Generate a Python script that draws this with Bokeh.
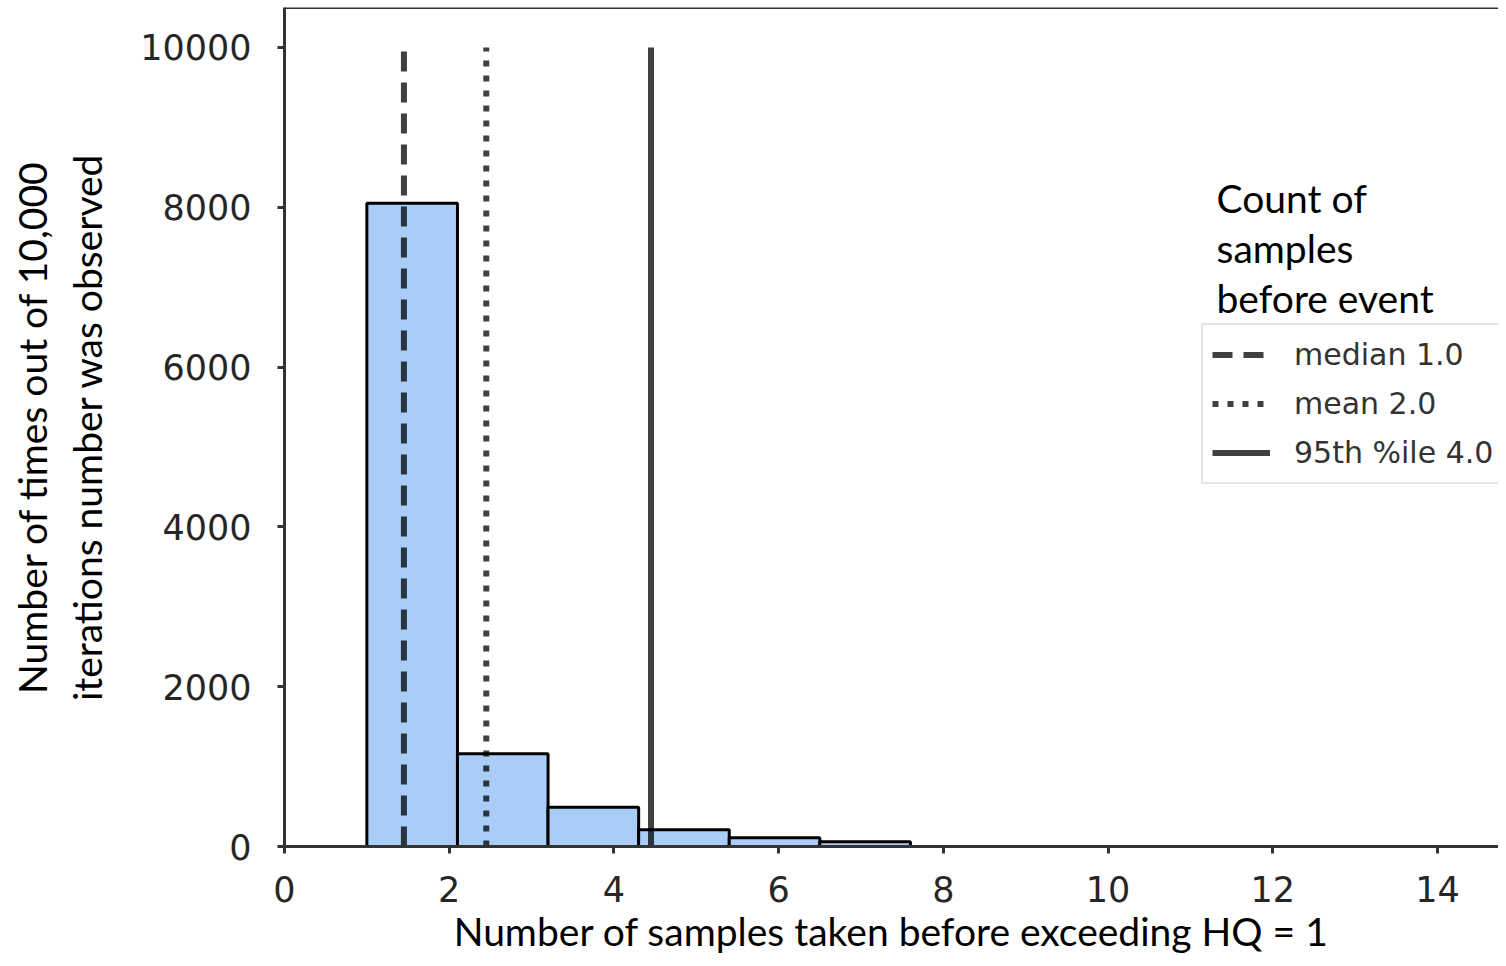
from bokeh.plotting import figure
from bokeh.models import Legend, LegendItem, Label, Span, FixedTicker
from bokeh.embed import file_html
from bokeh.resources import INLINE

# ---- data ----
bin_edges = [1.0, 2.1, 3.2, 4.3, 5.4, 6.5, 7.6]
counts = [8050, 1160, 490, 210, 110, 60]

stat_labels = ["median 1.0", "mean 2.0", "95th %ile 4.0"]
stat_x = [1.45, 2.45, 4.45]
stat_top = 10000
stat_dash = ["20 11", "6 9", "solid"]

x_ticks = [0, 2, 4, 6, 8, 10, 12, 14]
y_ticks = [0, 2000, 4000, 6000, 8000, 10000]

x_title = "Number of samples taken before exceeding HQ = 1"
y_title_lines = ["Number of times out of 10,000", "iterations number was observed"]
legend_title_lines = ["Count of", "samples", "before event"]

AX = "#333333"
TICK_FONT = "DejaVu Sans"
LBL_FONT = "Lato"

W, H = 1498, 958
FRAME_LEFT = 284
FRAME_TOP = 7
FRAME_BOTTOM = 846
Y_TOP = 10500
PX_PER_X = 82.36
X_END = (W - FRAME_LEFT) / PX_PER_X


def py(page_y):
    return (FRAME_BOTTOM - page_y) / (FRAME_BOTTOM - FRAME_TOP) * Y_TOP


def px(page_x):
    return (page_x - FRAME_LEFT) / PX_PER_X


p = figure(width=W, height=H, x_range=(0, X_END), y_range=(0, Y_TOP),
           output_backend="svg", toolbar_location=None,
           min_border_left=FRAME_LEFT, min_border_right=0, min_border_top=FRAME_TOP,
           min_border_bottom=H - FRAME_BOTTOM)
p.outline_line_color = None
p.grid.visible = False
p.background_fill_color = "white"
p.border_fill_color = "white"

p.quad(left=bin_edges[:-1], right=bin_edges[1:], bottom=0, top=counts,
       fill_color="#a9cdf6", line_color="black", line_width=3)

renderers = []
for xv, dash in zip(stat_x, stat_dash):
    r = p.line([xv, xv], [0, stat_top], line_color="black", line_alpha=0.75,
               line_width=6, line_dash=dash)
    renderers.append(r)

for ax in (p.xaxis[0], p.yaxis[0]):
    ax.axis_line_color = AX
    ax.axis_line_width = 3
    ax.major_tick_line_color = AX
    ax.major_tick_line_width = 3
    ax.major_tick_out = 7
    ax.major_tick_in = 0
    ax.minor_tick_line_color = None
    ax.major_label_text_font = TICK_FONT
    ax.major_label_text_font_size = "35px"
    ax.major_label_text_color = "#262626"
    ax.axis_label_text_font = LBL_FONT
    ax.axis_label_text_font_size = "39px"
    ax.axis_label_text_font_style = "normal"
    ax.axis_label_text_color = "black"

p.xaxis.ticker = FixedTicker(ticks=x_ticks)
p.yaxis.ticker = FixedTicker(ticks=y_ticks)
p.xaxis.major_label_standoff = 22
p.yaxis.major_label_standoff = 26
p.xaxis.axis_label = x_title
p.yaxis.axis_label = "\n".join(y_title_lines)
p.xaxis.axis_label_standoff = 3
p.yaxis.axis_label_standoff = 27

p.add_layout(Span(location=Y_TOP, dimension="width", line_color=AX, line_width=3))

items = [LegendItem(label=l, renderers=[r]) for l, r in zip(stat_labels, renderers)]
legend = Legend(items=items, location=(917, 362), orientation="vertical",
                label_text_font=TICK_FONT, label_text_font_size="30px",
                label_text_color="#333333", glyph_width=58, glyph_height=41,
                label_standoff=24, spacing=8, padding=9, margin=0,
                border_line_color="#cccccc", border_line_width=2,
                background_fill_color="white", background_fill_alpha=1.0)
p.add_layout(legend, "center")

base_y = [197, 247, 297]
for txt, yy in zip(legend_title_lines, base_y):
    p.add_layout(Label(x=px(1216), y=py(yy), text=txt, text_font=LBL_FONT,
                       text_font_size="39px", text_color="black",
                       text_baseline="alphabetic", text_align="left"))

open("out.html", "w").write(file_html(p, INLINE))
